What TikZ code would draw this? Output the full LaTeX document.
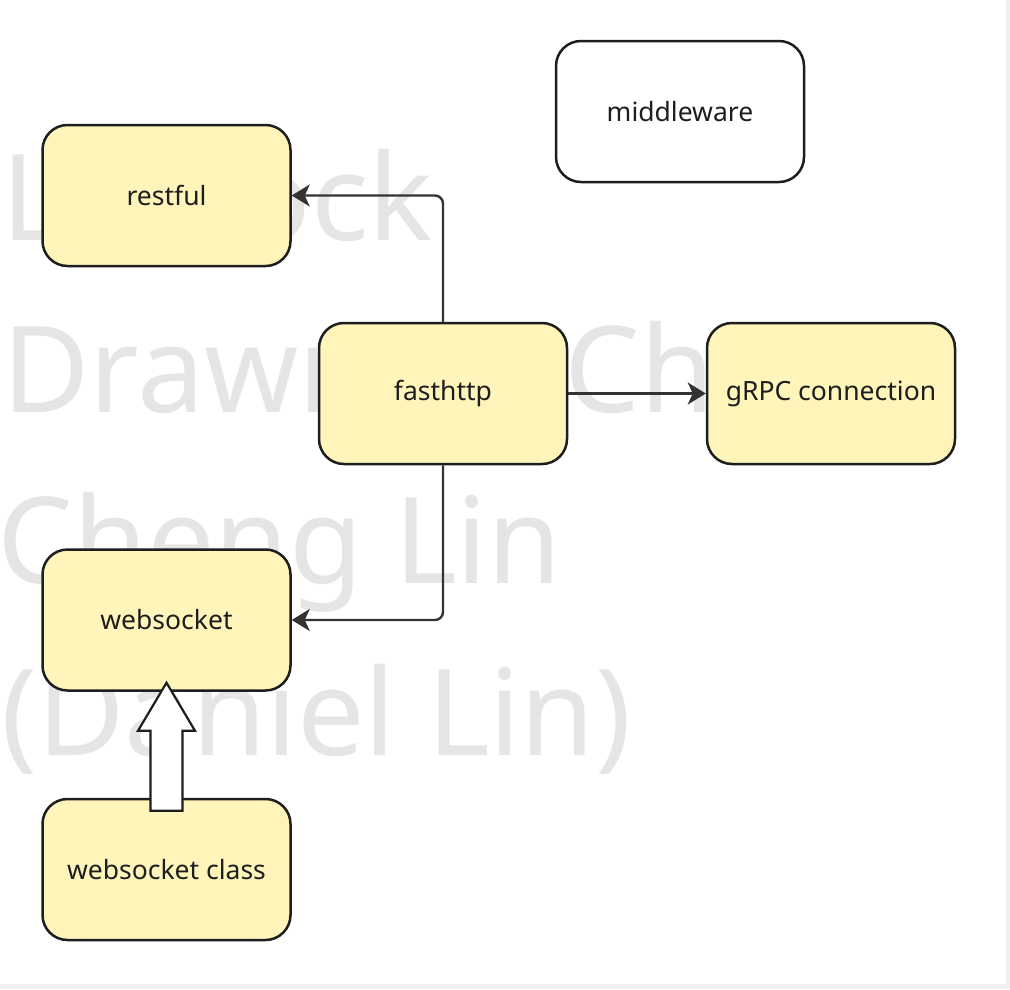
\documentclass[tikz,border=0pt]{standalone}
\usepackage{fontspec}
\setmainfont{Noto Sans}
\usepackage{xcolor}
\usetikzlibrary{arrows.meta,calc}

\definecolor{boxyellow}{RGB}{255,244,186}
\definecolor{boxline}{RGB}{30,30,30}
\definecolor{connline}{RGB}{51,51,51}
\definecolor{wmgray}{RGB}{229,229,229}
\definecolor{edgegray}{RGB}{240,240,240}

\tikzset{
  block/.style={draw=boxline, line width=2.5pt, rounded corners=25pt, fill=boxyellow,
    minimum width=248pt, minimum height=141pt, inner sep=0pt, text=boxline,
    font=\fontsize{26.5}{32}\selectfont},
  conn/.style={draw=connline, line width=2.4pt, rounded corners=8pt,
    -{Stealth[length=18pt, width=22pt, inset=5pt]}},
  wmark/.style={anchor=base west, inner sep=0pt, text=wmgray,
    font=\fontsize{120}{171}\selectfont}
}

\begin{document}
\begin{tikzpicture}[x=1pt, y=-1pt]

    \useasboundingbox (0,0) rectangle (1010,989);
    % Page with its grey edge
    \fill[edgegray] (0,0) rectangle (1010,989);
    \fill[white] (0,0) rectangle (1006,984);

    % Watermark behind the boxes
    \node[wmark] (wmL) at (1,240) {L};
    \node[wmark, anchor=base east] (wmock) at (433,240) {ock};
    \node[wmark] (wmdraw) at (2,412) {Drawn};
    \node[wmark] (wmch) at (564,412) {Ch};
    \node[wmark] (wmcheng) at (-3,583) {Cheng Lin};
    \node[wmark] (wmdaniel) at (1,755) {(Daniel Lin)};

    % Boxes
    \node[block, fill=white] (middleware) at (680,111.5) {middleware};
    \node[block] (restful) at (166.5,195.5) {restful};
    \node[block] (fasthttp) at (443,393.5) {fasthttp};
    \node[block] (grpc) at (831,393.5) {gRPC connection};
    \node[block] (websocket) at (166.5,620) {websocket};
    \node[block] (wsclass) at (166.5,869.5) {websocket class};

    % Connectors out of fasthttp
    \draw[conn] (fasthttp.north) |- (restful.east);
    \draw[conn] (fasthttp.south) |- (websocket.east);
    \draw[conn] (fasthttp.east) -- (grpc.west);

    % Hollow arrow: websocket class up to websocket
    \draw[boxline, line width=2.2pt, fill=white, line join=miter]
        ($(wsclass.north)+(-16,13)$) -- ($(wsclass.north)+(-16,-67)$)
        -- ($(wsclass.north)+(-28.5,-67)$) -- ($(websocket.south)+(0,-9)$)
        -- ($(wsclass.north)+(28.5,-67)$) -- ($(wsclass.north)+(16,-67)$)
        -- ($(wsclass.north)+(16,13)$) -- cycle;

\end{tikzpicture}
\end{document}
